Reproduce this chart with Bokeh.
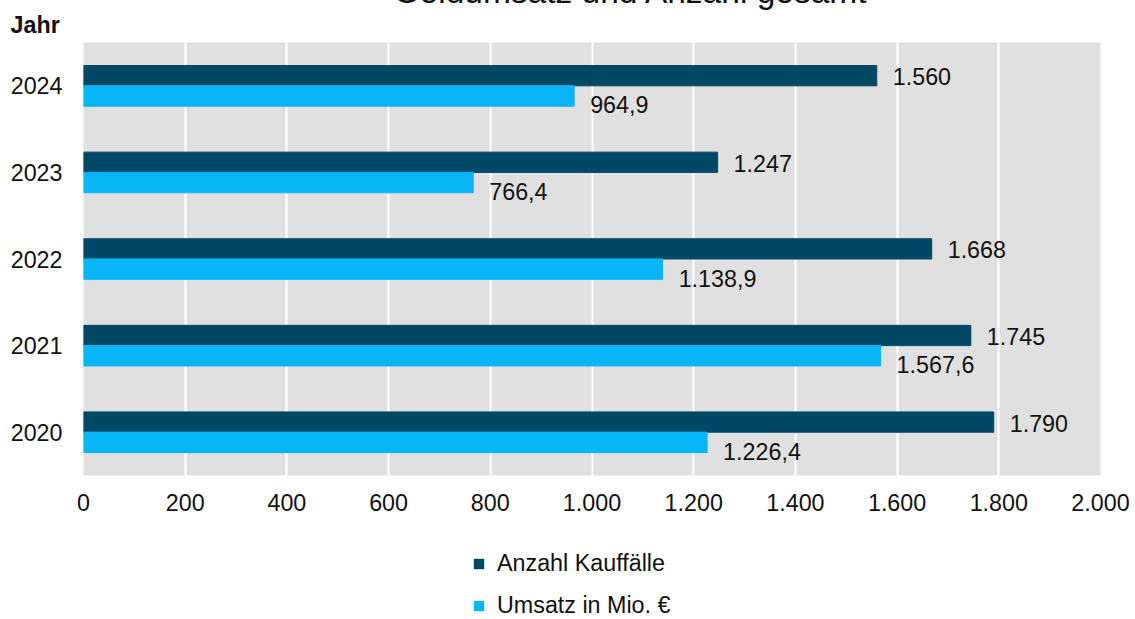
from bokeh.plotting import figure
from bokeh.layouts import column
from bokeh.models import ColumnDataSource, FactorRange, Range1d, FixedTicker, Title, Legend, LegendItem
from bokeh.transform import dodge
from bokeh.core.properties import value
from bokeh.embed import file_html
from bokeh.resources import INLINE

# ---- data ----
years = ["2020", "2021", "2022", "2023", "2024"]
anzahl = [1790, 1745, 1668, 1247, 1560]
umsatz = [1226.4, 1567.6, 1138.9, 766.4, 964.9]
x_ticks = [0, 200, 400, 600, 800, 1000, 1200, 1400, 1600, 1800, 2000]
title_text = "Geldumsatz und Anzahl gesamt"
series_names = ["Anzahl Kauffälle", "Umsatz in Mio. €"]

DARK = "#004866"
LIGHT = "#08b6f8"
FONT = "Liberation Sans"
FS = "23.3px"
TXT = "#111111"


def de_int(v):
    return f"{int(round(v)):,}".replace(",", ".")


def de_dec(v):
    s = f"{v:,.1f}"
    return s.replace(",", "X").replace(".", ",").replace("X", ".")


src = ColumnDataSource(dict(
    year=years,
    anzahl=anzahl,
    umsatz=umsatz,
    anzahl_lbl=[de_int(v) for v in anzahl],
    umsatz_lbl=[de_dec(v) for v in umsatz],
))

SHIFT = 38  # canvas starts this many px above the page so the title is cut off
p = figure(
    frame_width=1017, frame_height=433,
    y_range=FactorRange(factors=years),
    x_range=Range1d(0, 2000),
    output_backend="svg", toolbar_location=None,
    min_border_left=83, min_border_right=35, min_border_top=42 + SHIFT, min_border_bottom=60,
)
p.outline_line_color = None
p.background_fill_color = "#e0e0e0"
p.border_fill_color = "white"

# main title (outermost, mostly above the visible page)
p.title.text = title_text
p.title.align = "left"
p.title.offset = 310
p.title.standoff = 0
p.title.vertical_align = "bottom"
p.title.text_font = FONT
p.title.text_font_size = "33.5px"
p.title.text_font_style = "normal"
p.title.text_color = TXT

# "Jahr" (nearer to the frame)
p.add_layout(Title(text="Jahr", align="left", offset=-73, standoff=5, vertical_align="top",
                   text_font=FONT, text_font_size=FS, text_font_style="bold",
                   text_color=TXT), "above")

p.ygrid.grid_line_color = None
p.xgrid.grid_line_color = "white"
p.xgrid.grid_line_width = 2
p.xgrid.ticker = FixedTicker(ticks=x_ticks)

p.hbar(y=dodge("year", 0.117, range=p.y_range), left=0, right="anzahl", height=0.234,
       source=src, fill_color=DARK, line_color=DARK)
p.hbar(y=dodge("year", -0.117, range=p.y_range), left=0, right="umsatz", height=0.236,
       source=src, fill_color=LIGHT, line_color=LIGHT)

p.text(x="anzahl", y=dodge("year", 0.117, range=p.y_range), text="anzahl_lbl", source=src,
       x_offset=16, y_offset=1, text_baseline="middle", text_align="left",
       text_font=value(FONT), text_font_size=value(FS), text_color=TXT)
p.text(x="umsatz", y=dodge("year", -0.117, range=p.y_range), text="umsatz_lbl", source=src,
       x_offset=16, y_offset=9, text_baseline="middle", text_align="left",
       text_font=value(FONT), text_font_size=value(FS), text_color=TXT)

# axes
xa = p.xaxis[0]
xa.ticker = FixedTicker(ticks=x_ticks)
xa.major_label_overrides = {t: de_int(t) for t in x_ticks}
xa.axis_line_color = None
xa.major_tick_line_color = None
xa.minor_tick_line_color = None
xa.major_tick_out = 0
xa.major_label_standoff = 18
xa.major_label_text_font = FONT
xa.major_label_text_font_size = FS
xa.major_label_text_color = TXT

ya = p.yaxis[0]
ya.axis_line_color = None
ya.major_tick_line_color = None
ya.minor_tick_line_color = None
ya.major_tick_out = 0
ya.major_label_standoff = 21
ya.major_label_text_font = FONT
ya.major_label_text_font_size = FS
ya.major_label_text_color = TXT

# ---- legend strip below the chart (same series; zero-height bars kept outside its view) ----
p2 = figure(
    frame_width=1135, frame_height=84,
    y_range=FactorRange(factors=years),
    x_range=Range1d(5000, 6000),
    output_backend="svg", toolbar_location=None,
    x_axis_location=None, y_axis_location=None,
    min_border_left=0, min_border_right=0, min_border_top=0, min_border_bottom=0,
)
p2.title.text = ""
p2.outline_line_color = None
p2.grid.visible = False
p2.background_fill_color = "white"
p2.border_fill_color = "white"
l1 = p2.hbar(y=dodge("year", 0.117, range=p2.y_range), left=0, right="anzahl", height=0,
             source=src, fill_color=DARK, line_color=None)
l2 = p2.hbar(y=dodge("year", -0.117, range=p2.y_range), left=0, right="umsatz", height=0,
             source=src, fill_color=LIGHT, line_color=None)

legend = Legend(items=[LegendItem(label=series_names[0], renderers=[l1]),
                       LegendItem(label=series_names[1], renderers=[l2])],
                location=(472, 0), orientation="vertical",
                glyph_width=13, glyph_height=13, label_standoff=12, spacing=15,
                padding=0, margin=0, border_line_color=None, background_fill_alpha=0,
                label_text_font=FONT, label_text_font_size=FS, label_text_color=TXT)
p2.add_layout(legend, "center")

layout = column(p, p2, spacing=0)
layout.styles = {"margin-top": f"-{SHIFT}px", "margin-bottom": "-10px"}

open("out.html", "w").write(file_html(layout, INLINE))
